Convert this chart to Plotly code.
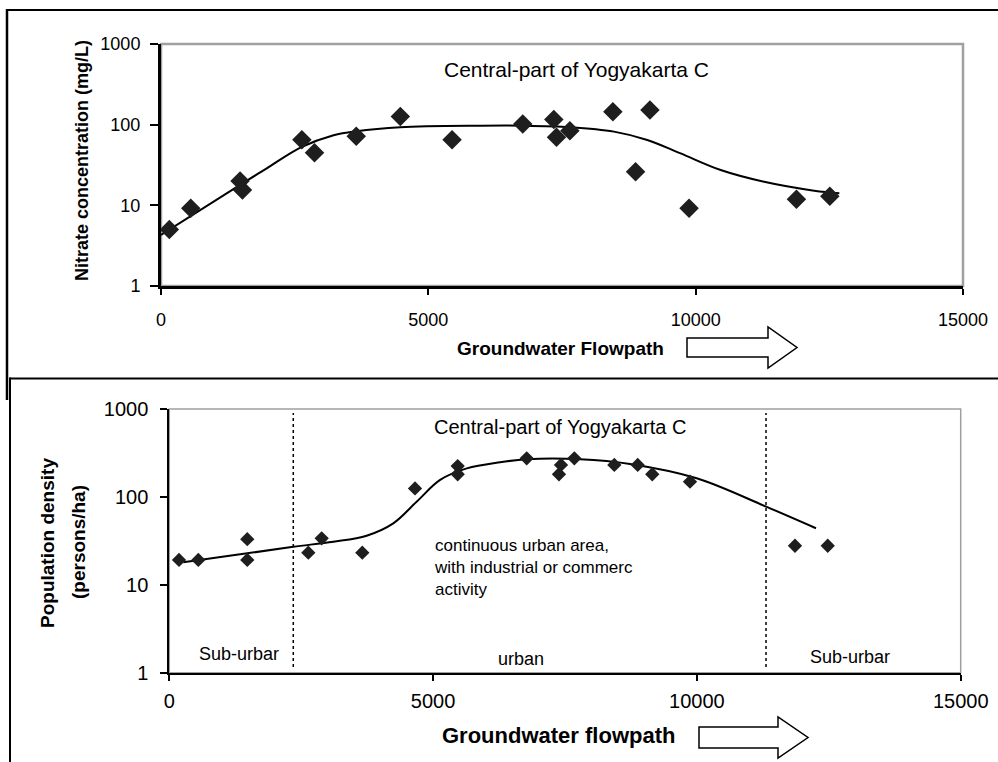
import plotly.graph_objects as go

# ---------------- data ----------------
# Top panel: nitrate concentration along groundwater flowpath
top_dist = [156, 556, 1479, 1523, 2635, 2871, 3652, 4476, 5444, 6766, 7347,
            7397, 7647, 8452, 9145, 8876, 9876, 11885, 12509]
top_nitrate = [5.0, 9.2, 20, 15.5, 65, 45, 72, 126, 65, 102, 116,
               70, 84, 145, 152, 26, 9.2, 11.9, 13]
top_trend_x = [0, 1479, 1978, 2635, 3228, 3652, 4476, 5975, 6766, 7647, 8471,
               9095, 9719, 10468, 11280, 12217, 12687]
top_trend_y = [4.3, 17.9, 28.8, 53, 74, 83, 93, 97, 97, 93, 82,
               64.6, 44, 27.4, 19.6, 15.2, 14.1]

# Bottom panel: population density along groundwater flowpath
bot_dist = [184, 550, 1478, 1478, 2635, 2888, 3658, 4657, 5466, 5466, 6774,
            7424, 7386, 7677, 8435, 8878, 9154, 9869, 11859, 12480]
bot_density = [19.2, 19.2, 33, 19.2, 23.2, 33.8, 23.2, 125, 224, 181, 275,
               231, 181, 275, 231, 231, 181, 149, 27.8, 27.8]
bot_trend_x = [265, 1478, 2350, 3108, 3740, 4245, 4687, 5133, 5639, 6270,
               6774, 7784, 8732, 9996, 11323, 12257]
bot_trend_y = [18, 22.8, 27.1, 30.9, 36.2, 50, 88, 156, 211, 248,
               268, 268, 237, 163, 77, 44]
zone_bounds = [2350, 11310]

x_ticks = [0, 5000, 10000, 15000]
x_ticktext = ["0", "5000", "10000", "15000"]
y_ticks = [1, 10, 100, 1000]
y_ticktext = ["1", "10", "100", "1000"]

W, H = 998, 762
FONT = "Liberation Sans, Arial, sans-serif"


def px(x):
    return x / W


def py(y):
    return 1 - y / H


fig = go.Figure()

fig.add_trace(go.Scatter(x=top_trend_x, y=top_trend_y, mode="lines",
                         line=dict(color="black", width=2, shape="spline", smoothing=1.0),
                         xaxis="x", yaxis="y", showlegend=False, hoverinfo="skip"))
fig.add_trace(go.Scatter(x=top_dist, y=top_nitrate, mode="markers",
                         marker=dict(symbol="diamond", size=15, color="#1e1e1e"),
                         xaxis="x", yaxis="y", showlegend=False))

fig.add_trace(go.Scatter(x=bot_trend_x, y=bot_trend_y, mode="lines",
                         line=dict(color="black", width=2, shape="spline", smoothing=1.0),
                         xaxis="x2", yaxis="y2", showlegend=False, hoverinfo="skip"))
fig.add_trace(go.Scatter(x=bot_dist, y=bot_density, mode="markers",
                         marker=dict(symbol="diamond", size=11, color="#1e1e1e"),
                         xaxis="x2", yaxis="y2", showlegend=False))

common_x = dict(range=[0, 15000], tickvals=x_ticks, ticktext=x_ticktext,
                showline=True, linecolor="black", automargin=False,
                ticks="outside", tickcolor="black", showgrid=False, zeroline=False,
                fixedrange=True)
common_y = dict(type="log", range=[0, 3], tickvals=y_ticks, ticktext=y_ticktext,
                showline=True, linecolor="black", ticks="outside", tickcolor="black",
                automargin=False, showgrid=False, zeroline=False, fixedrange=True)

fig.update_layout(
    template="none",
    width=W, height=H,
    margin=dict(l=0, r=0, t=0, b=0, pad=0, autoexpand=False),
    paper_bgcolor="white", plot_bgcolor="white",
    font=dict(family=FONT, color="black"),
    xaxis=dict(**common_x, domain=[px(161), px(963)], anchor="y",
               linewidth=3, ticklen=6, tickwidth=2,
               tickfont=dict(size=18), ticklabelstandoff=9),
    yaxis=dict(**common_y, domain=[py(286), py(44)], anchor="x",
               linewidth=3, ticklen=8, tickwidth=2,
               tickfont=dict(size=18), ticklabelstandoff=6),
    xaxis2=dict(**common_x, domain=[px(169.3), px(960.7)], anchor="y2",
                linewidth=2, ticklen=6, tickwidth=2,
                tickfont=dict(size=20), ticklabelstandoff=3),
    yaxis2=dict(**common_y, domain=[py(672.7), py(409)], anchor="x2",
                linewidth=2, ticklen=7, tickwidth=2,
                tickfont=dict(size=20), ticklabelstandoff=8),
)

shapes = []
# gray plot-area frames
shapes.append(dict(type="rect", xref="x domain", yref="y domain", x0=0, x1=1, y0=0, y1=1,
                   line=dict(color="#a0a0a0", width=2.5), layer="below"))
shapes.append(dict(type="rect", xref="x2 domain", yref="y2 domain", x0=0, x1=1, y0=0, y1=1,
                   line=dict(color="#a0a0a0", width=1.5), layer="below"))
# zone boundaries (dotted)
for zb in zone_bounds:
    shapes.append(dict(type="line", xref="x2", yref="y2 domain", x0=zb, x1=zb,
                       y0=0.022, y1=0.985, line=dict(color="black", width=1.5, dash="dot")))
# outer frames
shapes.append(dict(type="line", xref="paper", yref="paper", x0=px(7), x1=px(998),
                   y0=py(10), y1=py(10), line=dict(color="black", width=2)))
shapes.append(dict(type="line", xref="paper", yref="paper", x0=px(7), x1=px(7),
                   y0=py(9), y1=py(400), line=dict(color="black", width=2.5)))
shapes.append(dict(type="line", xref="paper", yref="paper", x0=px(9.5), x1=px(998),
                   y0=py(378.5), y1=py(378.5), line=dict(color="black", width=2)))
shapes.append(dict(type="line", xref="paper", yref="paper", x0=px(10), x1=px(10),
                   y0=py(377.5), y1=py(762), line=dict(color="black", width=2)))


def arrow_path(x0, xb, xt, ymid, hb, hh):
    pts = [(x0, ymid - hb), (xb, ymid - hb), (xb, ymid - hh), (xt, ymid),
           (xb, ymid + hh), (xb, ymid + hb), (x0, ymid + hb)]
    d = "M " + " L ".join(f"{px(a):.5f},{py(b):.5f}" for a, b in pts) + " Z"
    return d


shapes.append(dict(type="path", xref="paper", yref="paper",
                   path=arrow_path(687, 768, 797, 347.5, 9.5, 20.5),
                   line=dict(color="black", width=1.5), fillcolor="white"))
shapes.append(dict(type="path", xref="paper", yref="paper",
                   path=arrow_path(699, 778, 808, 737.5, 10.5, 20.5),
                   line=dict(color="black", width=1.5), fillcolor="white"))
fig.update_layout(shapes=shapes)

ann = []


def text(t, x, y, size, bold=False, xanchor="center", angle=0, yanchor="middle"):
    ann.append(dict(text=(f"<b>{t}</b>" if bold else t), x=px(x), y=py(y),
                    xref="paper", yref="paper", xanchor=xanchor, yanchor=yanchor,
                    showarrow=False, textangle=angle, align="left",
                    font=dict(family=FONT, size=size, color="black")))


text("Central-part of Yogyakarta C", 576, 70, 21)
text("Nitrate concentration (mg/L)", 82, 161, 18, bold=True, angle=-90)
text("Groundwater Flowpath", 560, 348, 19, bold=True)

text("Central-part of Yogyakarta C", 560, 427, 20)
text("continuous urban area,<br>with industrial or commerc<br>activity", 432, 567, 17,
     xanchor="left")
text("Sub-urbar", 197, 654, 18, xanchor="left")
text("urban", 496, 659, 18, xanchor="left")
text("Sub-urbar", 808, 657, 18, xanchor="left")
text("Population density", 47, 543, 19, bold=True, angle=-90)
text("(persons/ha)", 78, 542, 19, bold=True, angle=-90)
text("Groundwater flowpath", 558, 735, 22, bold=True)

fig.update_layout(annotations=ann)

fig.write_html("out.html", config={"displayModeBar": False},
               post_script="document.body.style.margin='0px';")
